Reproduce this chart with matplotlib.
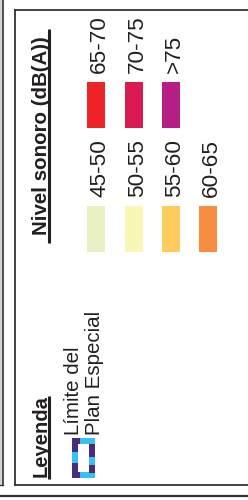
import matplotlib.pyplot as plt
from matplotlib.patches import Rectangle

plt.rcParams['font.family'] = ['Liberation Sans', 'DejaVu Sans']

# ===================== 图例数据 =====================
title_leyenda = 'Leyenda'
title_nivel = 'Nivel sonoro (dB(A))'
limite_lines = ['Límite del', 'Plan Especial']

lower_labels = ['45-50', '50-55', '55-60', '60-65']
lower_colors = ['#E8EFC1', '#FAF6B6', '#FECB5E', '#F68D40']
upper_labels = ['65-70', '70-75', '>75']
upper_colors = ['#EE2426', '#DC1A52', '#B51E85']

W, H = 248, 500
fig = plt.figure(figsize=(W / 100, H / 100), dpi=100)
ax = fig.add_axes([0, 0, 1, 1])
ax.set_xlim(0, W)
ax.set_ylim(H, 0)
ax.axis('off')

# ===================== 边框 =====================
ax.add_patch(Rectangle((0, 0), 3, 485, color='#D4D4D4', lw=0))
ax.plot([3, 3], [0, 485], color='#333333', lw=1.2)
ax.plot([0, 3], [485, 485], color='#333333', lw=1.0)
ax.plot([15, 15], [10, 485], color='#333333', lw=1.3)
ax.plot([15, W], [10, 10], color='#333333', lw=1.3)
ax.plot([15, W], [485, 485], color='#333333', lw=1.3)
ax.plot([0, W], [496, 496], color='#333333', lw=1.6)

# ===================== 标题 =====================
txt = dict(rotation=90, rotation_mode='anchor', ha='left', va='baseline', color='#231F20')
ax.text(47, 477, title_leyenda, fontsize=14.5, fontweight='bold', **txt)
ax.plot([49, 49], [396, 479], color='#231F20', lw=2.2, solid_capstyle='butt')
ax.text(47, 235, title_nivel, fontsize=14.8, fontweight='bold', **txt)
ax.plot([49, 49], [29, 243], color='#231F20', lw=2.2, solid_capstyle='butt')

# ===================== 规划边界 =====================
ax.text(79, 435, limite_lines[0], fontsize=14.8, **txt)
ax.text(100, 435, limite_lines[1], fontsize=14.8, **txt)
# 虚线框图标：青色底 + 紫色分段
x0, x1, y0, y1 = 75, 92, 441, 475
ax.plot([x0, x1, x1, x0, x0], [y0, y0, y1, y1, y0], color='#35C2F0', lw=4.3,
        solid_joinstyle='miter')
for xx, ya, yb in [(x0, 438, 452), (x0, 463, 478), (x1, 444, 457), (x1, 465, 473)]:
    ax.plot([xx, xx], [ya, yb], color='#4A2A7C', lw=4.3, solid_capstyle='butt')
ax.plot([72, 80], [y0, y0], color='#4A2A7C', lw=4.3, solid_capstyle='butt')
ax.plot([72, 80], [y1, y1], color='#4A2A7C', lw=4.3, solid_capstyle='butt')

# ===================== 色块 =====================
col_x = [87, 125, 162, 199]
for i, (lab, c) in enumerate(zip(lower_labels, lower_colors)):
    ax.add_patch(Rectangle((col_x[i], 206), 18, 46, color=c, lw=0))
    ax.text(col_x[i] + 18, 197, lab, fontsize=16.2, **txt)
for i, (lab, c) in enumerate(zip(upper_labels, upper_colors)):
    ax.add_patch(Rectangle((col_x[i], 82), 18, 46, color=c, lw=0))
    ax.text(col_x[i] + 18, 73, lab, fontsize=16.2, **txt)

plt.savefig('out.png', dpi=100)
plt.close()
